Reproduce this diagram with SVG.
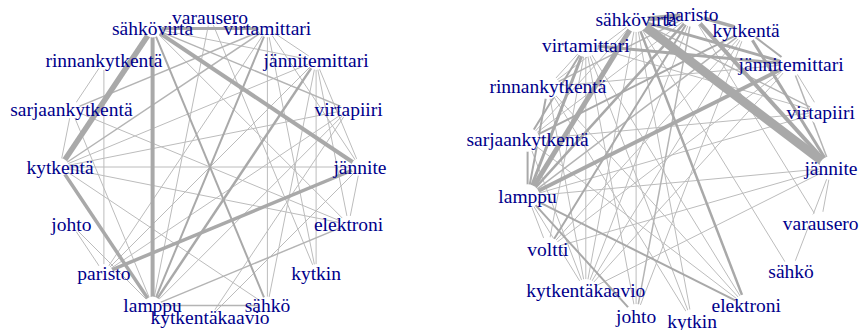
<svg xmlns="http://www.w3.org/2000/svg" width="863" height="330" viewBox="0 0 863 330">
<style>
.e{stroke:#a9a9a9;fill:none;stroke-linecap:butt}
.w1{stroke-width:1;stroke:#bcbcbc}
.w15{stroke-width:1.5;stroke:#b4b4b4}
.w2{stroke-width:2}
.w25{stroke-width:2.5}
.w3{stroke-width:3}
.w35{stroke-width:3.5}
.w4{stroke-width:4}
.w5{stroke-width:5}
.w55{stroke-width:5.5}
.w9{stroke-width:9}
text{font-family:"Liberation Serif","Times New Roman",serif;font-size:19.5px;fill:#00008B;text-anchor:middle}
</style>
<defs>
<mask id="mL" maskUnits="userSpaceOnUse" x="0" y="0" width="863" height="330">
<rect x="0" y="0" width="863" height="330" fill="#fff"/>
<g fill="#000">
<circle cx="360" cy="167" r="9"/><circle cx="348.6" cy="109.6" r="9"/><circle cx="316.1" cy="60.9" r="9"/><circle cx="267.4" cy="28.4" r="9"/><circle cx="210" cy="17" r="9"/><circle cx="152.6" cy="28.4" r="9"/><circle cx="103.9" cy="60.9" r="9"/><circle cx="71.4" cy="109.6" r="9"/><circle cx="60" cy="167" r="9"/><circle cx="71.4" cy="224.4" r="9"/><circle cx="103.9" cy="273.1" r="9"/><circle cx="152.6" cy="305.6" r="9"/><circle cx="210" cy="317" r="9"/><circle cx="267.4" cy="305.6" r="9"/><circle cx="316.1" cy="273.1" r="9"/><circle cx="348.6" cy="224.4" r="9"/>
</g>
</mask>
<mask id="mR" maskUnits="userSpaceOnUse" x="0" y="0" width="863" height="330">
<rect x="0" y="0" width="863" height="330" fill="#fff"/>
<g fill="#000">
<circle cx="831" cy="168" r="12"/><circle cx="820.7" cy="112.4" r="12"/><circle cx="791.1" cy="64.3" r="12"/><circle cx="746.2" cy="30.1" r="12"/><circle cx="692.1" cy="14.7" r="12"/><circle cx="636.1" cy="19.9" r="12"/><circle cx="585.8" cy="45.1" r="12"/><circle cx="547.9" cy="86.9" r="12"/><circle cx="527.6" cy="139.7" r="12"/><circle cx="527.6" cy="196.3" r="12"/><circle cx="547.9" cy="249.1" r="12"/><circle cx="585.8" cy="290.9" r="12"/><circle cx="636.1" cy="316.1" r="12"/><circle cx="692.1" cy="321.3" r="12"/><circle cx="746.2" cy="305.9" r="12"/><circle cx="791.1" cy="271.7" r="12"/><circle cx="820.7" cy="223.6" r="12"/>
</g>
</mask>
</defs>
<rect x="0" y="0" width="863" height="330" fill="#fff"/>

<g id="connectors-left" class="e" mask="url(#mL)">
<line class="w1" x1="60" y1="167" x2="360" y2="167"/>
<line class="w1" x1="60" y1="167" x2="71.4" y2="109.6"/>
<line class="w1" x1="103.9" y1="60.9" x2="71.4" y2="109.6"/>
<line class="w1" x1="103.9" y1="60.9" x2="103.9" y2="273.1"/>
<line class="w1" x1="267.4" y1="28.4" x2="267.4" y2="305.6"/>
<line class="w1" x1="267.4" y1="28.4" x2="360" y2="167"/>
<line class="w1" x1="316.1" y1="60.9" x2="360" y2="167"/>
<line class="w1" x1="316.1" y1="60.9" x2="267.4" y2="305.6"/>
<line class="w1" x1="316.1" y1="60.9" x2="316.1" y2="273.1"/>
<line class="w1" x1="316.1" y1="60.9" x2="348.6" y2="224.4"/>
<line class="w1" x1="316.1" y1="60.9" x2="103.9" y2="273.1"/>
<line class="w1" x1="267.4" y1="28.4" x2="103.9" y2="273.1"/>
<line class="w1" x1="348.6" y1="109.6" x2="60" y2="167"/>
<line class="w1" x1="348.6" y1="109.6" x2="210" y2="317"/>
<line class="w1" x1="360" y1="167" x2="348.6" y2="224.4"/>
<line class="w1" x1="360" y1="167" x2="210" y2="317"/>
<line class="w1" x1="316.1" y1="273.1" x2="267.4" y2="28.4"/>
<line class="w1" x1="316.1" y1="273.1" x2="210" y2="17"/>
<line class="w1" x1="267.4" y1="305.6" x2="60" y2="167"/>
<line class="w1" x1="71.4" y1="224.4" x2="103.9" y2="273.1"/>
<line class="w1" x1="71.4" y1="224.4" x2="152.6" y2="305.6"/>
<line class="w1" x1="71.4" y1="109.6" x2="152.6" y2="305.6"/>
<line class="w1" x1="152.6" y1="305.6" x2="210" y2="17"/>
<line class="w1" x1="152.6" y1="305.6" x2="348.6" y2="109.6"/>
<line class="w1" x1="103.9" y1="273.1" x2="348.6" y2="109.6"/>
<line class="w1" x1="152.6" y1="28.4" x2="316.1" y2="60.9"/>
<line class="w1" x1="267.4" y1="28.4" x2="316.1" y2="60.9"/>
<line class="w1" x1="71.4" y1="109.6" x2="348.6" y2="224.4"/>
<line class="w1" x1="60" y1="167" x2="348.6" y2="224.4"/>
<line class="w1" x1="152.6" y1="28.4" x2="348.6" y2="224.4"/>
<line class="w1" x1="60" y1="167" x2="316.1" y2="60.9"/>
<line class="w15" x1="71.4" y1="109.6" x2="267.4" y2="28.4"/>
<line class="w15" x1="60" y1="167" x2="267.4" y2="28.4"/>
<line class="w15" x1="152.6" y1="28.4" x2="348.6" y2="109.6"/>
<line class="w15" x1="152.6" y1="305.6" x2="348.6" y2="224.4"/>
<line class="w15" x1="152.6" y1="305.6" x2="267.4" y2="305.6"/>
<line class="w2" x1="152.6" y1="28.4" x2="267.4" y2="305.6"/>
<line class="w2" x1="152.6" y1="305.6" x2="267.4" y2="28.4"/>
<line class="w25" x1="152.6" y1="305.6" x2="316.1" y2="60.9"/>
<line class="w3" x1="152.6" y1="28.4" x2="267.4" y2="28.4"/>
<line class="w35" x1="60" y1="167" x2="152.6" y2="305.6"/>
<line class="w35" x1="103.9" y1="273.1" x2="360" y2="167"/>
<line class="w4" x1="152.6" y1="28.4" x2="152.6" y2="305.6"/>
<line class="w4" x1="152.6" y1="28.4" x2="360" y2="167"/>
<line class="w55" x1="152.6" y1="28.4" x2="60" y2="167"/>
</g>

<g id="connectors-right" class="e" mask="url(#mR)">
<line class="w1" x1="527.6" y1="196.3" x2="831" y2="168"/>
<line class="w1" x1="527.6" y1="196.3" x2="547.9" y2="249.1"/>
<line class="w1" x1="527.6" y1="196.3" x2="585.8" y2="290.9"/>
<line class="w1" x1="636.1" y1="19.9" x2="791.1" y2="271.7"/>
<line class="w1" x1="692.1" y1="14.7" x2="820.7" y2="223.6"/>
<line class="w1" x1="791.1" y1="271.7" x2="831" y2="168"/>
<line class="w1" x1="820.7" y1="223.6" x2="831" y2="168"/>
<line class="w1" x1="585.8" y1="290.9" x2="831" y2="168"/>
<line class="w1" x1="585.8" y1="290.9" x2="636.1" y2="19.9"/>
<line class="w1" x1="585.8" y1="290.9" x2="585.8" y2="45.1"/>
<line class="w1" x1="585.8" y1="290.9" x2="547.9" y2="86.9"/>
<line class="w1" x1="585.8" y1="290.9" x2="527.6" y2="139.7"/>
<line class="w1" x1="585.8" y1="290.9" x2="692.1" y2="14.7"/>
<line class="w1" x1="585.8" y1="290.9" x2="746.2" y2="30.1"/>
<line class="w1" x1="585.8" y1="290.9" x2="791.1" y2="64.3"/>
<line class="w1" x1="636.1" y1="316.1" x2="636.1" y2="19.9"/>
<line class="w1" x1="636.1" y1="316.1" x2="746.2" y2="30.1"/>
<line class="w1" x1="636.1" y1="316.1" x2="585.8" y2="45.1"/>
<line class="w1" x1="692.1" y1="321.3" x2="585.8" y2="45.1"/>
<line class="w1" x1="692.1" y1="321.3" x2="636.1" y2="19.9"/>
<line class="w1" x1="692.1" y1="321.3" x2="547.9" y2="86.9"/>
<line class="w1" x1="746.2" y1="305.9" x2="547.9" y2="86.9"/>
<line class="w1" x1="746.2" y1="305.9" x2="527.6" y2="139.7"/>
<line class="w1" x1="746.2" y1="305.9" x2="585.8" y2="45.1"/>
<line class="w1" x1="820.7" y1="112.4" x2="527.6" y2="196.3"/>
<line class="w1" x1="820.7" y1="112.4" x2="527.6" y2="139.7"/>
<line class="w1" x1="820.7" y1="112.4" x2="791.1" y2="64.3"/>
<line class="w1" x1="791.1" y1="64.3" x2="547.9" y2="249.1"/>
<line class="w1" x1="585.8" y1="45.1" x2="547.9" y2="86.9"/>
<line class="w1" x1="585.8" y1="45.1" x2="547.9" y2="249.1"/>
<line class="w1" x1="547.9" y1="86.9" x2="636.1" y2="19.9"/>
<line class="w1" x1="527.6" y1="139.7" x2="692.1" y2="14.7"/>
<line class="w1" x1="527.6" y1="139.7" x2="636.1" y2="19.9"/>
<line class="w1" x1="547.9" y1="249.1" x2="831" y2="168"/>
<line class="w1" x1="547.9" y1="249.1" x2="746.2" y2="30.1"/>
<line class="w1" x1="585.8" y1="45.1" x2="820.7" y2="112.4"/>
<line class="w1" x1="547.9" y1="86.9" x2="791.1" y2="64.3"/>
<line class="w15" x1="636.1" y1="316.1" x2="692.1" y2="14.7"/>
<line class="w15" x1="820.7" y1="112.4" x2="636.1" y2="19.9"/>
<line class="w15" x1="791.1" y1="64.3" x2="831" y2="168"/>
<line class="w15" x1="547.9" y1="86.9" x2="692.1" y2="14.7"/>
<line class="w15" x1="746.2" y1="30.1" x2="527.6" y2="196.3"/>
<line class="w2" x1="746.2" y1="30.1" x2="791.1" y2="64.3"/>
<line class="w2" x1="547.9" y1="86.9" x2="527.6" y2="196.3"/>
<line class="w2" x1="527.6" y1="139.7" x2="527.6" y2="196.3"/>
<line class="w2" x1="527.6" y1="196.3" x2="746.2" y2="305.9"/>
<line class="w2" x1="527.6" y1="196.3" x2="636.1" y2="316.1"/>
<line class="w2" x1="547.9" y1="249.1" x2="692.1" y2="14.7"/>
<line class="w2" x1="585.8" y1="45.1" x2="527.6" y2="139.7"/>
<line class="w2" x1="527.6" y1="139.7" x2="746.2" y2="30.1"/>
<line class="w25" x1="692.1" y1="14.7" x2="527.6" y2="196.3"/>
<line class="w25" x1="636.1" y1="19.9" x2="746.2" y2="305.9"/>
<line class="w3" x1="636.1" y1="19.9" x2="791.1" y2="64.3"/>
<line class="w3" x1="585.8" y1="45.1" x2="791.1" y2="64.3"/>
<line class="w3" x1="746.2" y1="30.1" x2="831" y2="168"/>
<line class="w3" x1="585.8" y1="45.1" x2="527.6" y2="196.3"/>
<line class="w35" x1="692.1" y1="14.7" x2="746.2" y2="30.1"/>
<line class="w4" x1="692.1" y1="14.7" x2="831" y2="168"/>
<line class="w4" x1="527.6" y1="196.3" x2="791.1" y2="64.3"/>
<line class="w5" x1="636.1" y1="19.9" x2="692.1" y2="14.7"/>
<line class="w5" x1="636.1" y1="19.9" x2="527.6" y2="196.3"/>
<line class="w9" x1="636.1" y1="19.9" x2="831" y2="168"/>
</g>

<g id="left-nodes">
<g id="L-jannite"><text x="360" y="173.5">jännite</text></g>
<g id="L-virtapiiri"><text x="348.6" y="116.1">virtapiiri</text></g>
<g id="L-jannitemittari"><text x="316.1" y="67.4">jännitemittari</text></g>
<g id="L-virtamittari"><text x="267.4" y="34.9">virtamittari</text></g>
<g id="L-varausero"><text x="210" y="23.5">varausero</text></g>
<g id="L-sahkovirta"><text x="152.6" y="34.9">sähkövirta</text></g>
<g id="L-rinnankytkenta"><text x="103.9" y="67.4">rinnankytkentä</text></g>
<g id="L-sarjaankytkenta"><text x="71.4" y="116.1">sarjaankytkentä</text></g>
<g id="L-kytkenta"><text x="60" y="173.5">kytkentä</text></g>
<g id="L-johto"><text x="71.4" y="230.9">johto</text></g>
<g id="L-paristo"><text x="103.9" y="279.6">paristo</text></g>
<g id="L-lamppu"><text x="152.6" y="312.1">lamppu</text></g>
<g id="L-kytkentakaavio"><text x="210" y="323.5">kytkentäkaavio</text></g>
<g id="L-sahko"><text x="267.4" y="312.1">sähkö</text></g>
<g id="L-kytkin"><text x="316.1" y="279.6">kytkin</text></g>
<g id="L-elektroni"><text x="348.6" y="230.9">elektroni</text></g>
</g>

<g id="right-nodes">
<g id="R-jannite"><text x="831" y="174.5">jännite</text></g>
<g id="R-virtapiiri"><text x="820.7" y="118.9">virtapiiri</text></g>
<g id="R-jannitemittari"><text x="791.1" y="70.8">jännitemittari</text></g>
<g id="R-kytkenta"><text x="746.2" y="36.6">kytkentä</text></g>
<g id="R-paristo"><text x="692.1" y="21.2">paristo</text></g>
<g id="R-sahkovirta"><text x="636.1" y="26.4">sähkövirta</text></g>
<g id="R-virtamittari"><text x="585.8" y="51.6">virtamittari</text></g>
<g id="R-rinnankytkenta"><text x="547.9" y="93.4">rinnankytkentä</text></g>
<g id="R-sarjaankytkenta"><text x="527.6" y="146.2">sarjaankytkentä</text></g>
<g id="R-lamppu"><text x="527.6" y="202.8">lamppu</text></g>
<g id="R-voltti"><text x="547.9" y="255.6">voltti</text></g>
<g id="R-kytkentakaavio"><text x="585.8" y="297.4">kytkentäkaavio</text></g>
<g id="R-johto"><text x="636.1" y="322.6">johto</text></g>
<g id="R-kytkin"><text x="692.1" y="327.8">kytkin</text></g>
<g id="R-elektroni"><text x="746.2" y="312.4">elektroni</text></g>
<g id="R-sahko"><text x="791.1" y="278.2">sähkö</text></g>
<g id="R-varausero"><text x="820.7" y="230.1">varausero</text></g>
</g>
</svg>
